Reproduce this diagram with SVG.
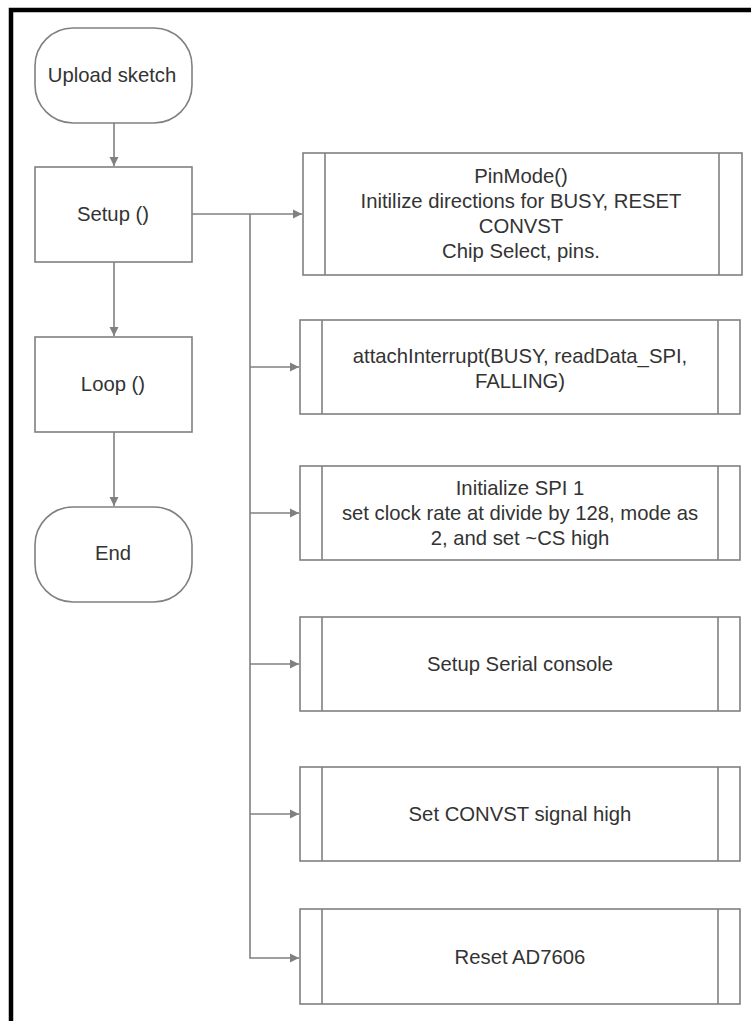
<svg xmlns="http://www.w3.org/2000/svg" width="751" height="1021" viewBox="0 0 751 1021">
<defs>
<style>
.shape{fill:#ffffff;stroke:#808080;stroke-width:1.6}
.div{stroke:#808080;stroke-width:1.6;fill:none}
.conn{stroke:#808080;stroke-width:1.6;fill:none}
.t{font-family:"Liberation Sans",Arial,sans-serif;font-size:20.3px;fill:#333333;text-anchor:middle;dominant-baseline:central}
</style>
<marker id="arr" markerWidth="12" markerHeight="12" refX="10" refY="6" orient="auto" markerUnits="userSpaceOnUse">
<path d="M1,1.5 L10,6 L1,10.5 Z" fill="#808080"/>
</marker>
</defs>
<rect x="0" y="0" width="751" height="1021" fill="#ffffff"/>
<rect x="11" y="10" width="900" height="1200" fill="none" stroke="#000000" stroke-width="4.5"/>

<g id="connectors">
<line class="conn" x1="114" y1="123" x2="114" y2="166" marker-end="url(#arr)"/>
<line class="conn" x1="114" y1="262" x2="114" y2="336" marker-end="url(#arr)"/>
<line class="conn" x1="114" y1="432" x2="114" y2="506" marker-end="url(#arr)"/>
<line class="conn" x1="192" y1="214" x2="302" y2="214" marker-end="url(#arr)"/>
<polyline class="conn" points="250,214 250,958 299,958" marker-end="url(#arr)"/>
<line class="conn" x1="250" y1="367" x2="299" y2="367" marker-end="url(#arr)"/>
<line class="conn" x1="250" y1="513" x2="299" y2="513" marker-end="url(#arr)"/>
<line class="conn" x1="250" y1="664" x2="299" y2="664" marker-end="url(#arr)"/>
<line class="conn" x1="250" y1="814" x2="299" y2="814" marker-end="url(#arr)"/>
</g>

<g id="upload">
<rect class="shape" x="35" y="28" width="157" height="95" rx="38" ry="38"/>
<text class="t" x="112" y="75">Upload sketch</text>
</g>
<g id="setup">
<rect class="shape" x="35" y="167" width="157" height="95"/>
<text class="t" x="113" y="214">Setup ()</text>
</g>
<g id="loop">
<rect class="shape" x="35" y="337" width="157" height="95"/>
<text class="t" x="113" y="384">Loop ()</text>
</g>
<g id="end">
<rect class="shape" x="35" y="507" width="157" height="95" rx="38" ry="38"/>
<text class="t" x="113" y="553">End</text>
</g>

<g id="pinmode">
<rect class="shape" x="303" y="153" width="439" height="122"/>
<line class="div" x1="325" y1="153" x2="325" y2="275"/>
<line class="div" x1="719" y1="153" x2="719" y2="275"/>
<text class="t" x="521" y="176">PinMode()</text>
<text class="t" x="521" y="201">Initilize directions for BUSY, RESET</text>
<text class="t" x="521" y="226">CONVST</text>
<text class="t" x="521" y="251">Chip Select, pins.</text>
</g>
<g id="attach">
<rect class="shape" x="300" y="320" width="440" height="94"/>
<line class="div" x1="322" y1="320" x2="322" y2="414"/>
<line class="div" x1="718" y1="320" x2="718" y2="414"/>
<text class="t" x="520" y="356">attachInterrupt(BUSY, readData_SPI,</text>
<text class="t" x="520" y="381">FALLING)</text>
</g>
<g id="spi">
<rect class="shape" x="300" y="466" width="440" height="94"/>
<line class="div" x1="322" y1="466" x2="322" y2="560"/>
<line class="div" x1="718" y1="466" x2="718" y2="560"/>
<text class="t" x="520" y="488">Initialize SPI 1</text>
<text class="t" x="520" y="513">set clock rate at divide by 128, mode as</text>
<text class="t" x="520" y="538">2, and set ~CS high</text>
</g>
<g id="serial">
<rect class="shape" x="300" y="617" width="440" height="94"/>
<line class="div" x1="322" y1="617" x2="322" y2="711"/>
<line class="div" x1="718" y1="617" x2="718" y2="711"/>
<text class="t" x="520" y="664">Setup Serial console</text>
</g>
<g id="convst">
<rect class="shape" x="300" y="767" width="440" height="94"/>
<line class="div" x1="322" y1="767" x2="322" y2="861"/>
<line class="div" x1="718" y1="767" x2="718" y2="861"/>
<text class="t" x="520" y="814">Set CONVST signal high</text>
</g>
<g id="reset">
<rect class="shape" x="300" y="909" width="440" height="95"/>
<line class="div" x1="322" y1="909" x2="322" y2="1004"/>
<line class="div" x1="718" y1="909" x2="718" y2="1004"/>
<text class="t" x="520" y="957">Reset AD7606</text>
</g>
</svg>
